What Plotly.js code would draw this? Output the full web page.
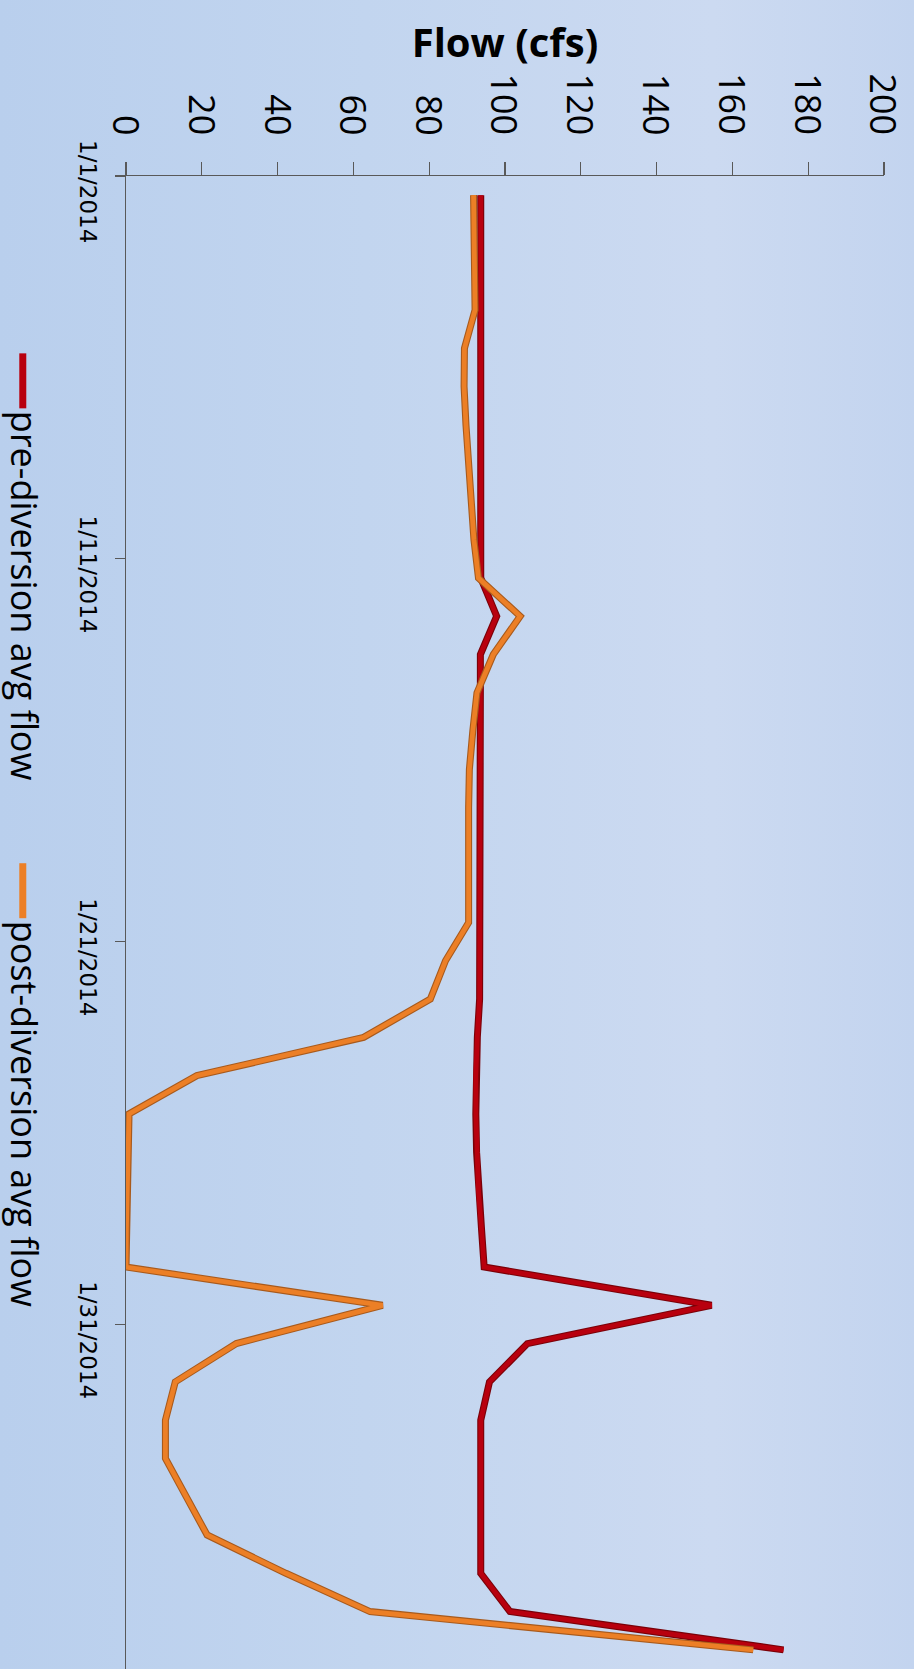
<!DOCTYPE html>
<html>
<head>
<meta charset="utf-8">
<script src="https://cdn.plot.ly/plotly-3.0.1.min.js"></script>
<style>
  html, body { margin: 0; padding: 0; }
  body {
    width: 914px; height: 1669px; overflow: hidden;
    background: linear-gradient(to right, #b9cfed 0%, #c2d5ef 40%, #ccdaf1 78%, #c3d4ef 100%);
  }
  #chart { width: 914px; height: 1669px; }
</style>
</head>
<body>
<div id="chart"></div>
<script>
// Daily dates, January 1 through February 8, 2014
const dates = [
  '2014-01-01','2014-01-02','2014-01-03','2014-01-04','2014-01-05','2014-01-06','2014-01-07',
  '2014-01-08','2014-01-09','2014-01-10','2014-01-11','2014-01-12','2014-01-13','2014-01-14',
  '2014-01-15','2014-01-16','2014-01-17','2014-01-18','2014-01-19','2014-01-20','2014-01-21',
  '2014-01-22','2014-01-23','2014-01-24','2014-01-25','2014-01-26','2014-01-27','2014-01-28',
  '2014-01-29','2014-01-30','2014-01-31','2014-02-01','2014-02-02','2014-02-03','2014-02-04',
  '2014-02-05','2014-02-06','2014-02-07','2014-02-08'
];

// Average flow before the diversion (cfs)
const preFlow = [
  93.6, 93.6, 93.6, 93.6, 93.6, 93.6, 93.6, 93.6, 93.6, 93.6,
  93.6, 97.8, 93.5, 93.5, 93.5, 93.5, 93.5, 93.5, 93.5, 93.5,
  93.4, 93.3, 92.7, 92.3, 92.3, 92.5, 93.0, 93.8, 94.5, 154.5,
  105.9, 95.9, 93.6, 93.6, 93.6, 93.6, 93.6, 101.3, 173.5
];

// Average flow after the diversion (cfs)
const postFlow = [
  91.7, 91.8, 92.0, 92.1, 89.3, 89.2, 89.7, 90.4, 91.1, 91.8,
  93.0, 104.0, 96.9, 92.6, 91.5, 90.6, 90.4, 90.3, 90.2, 90.4,
  84.3, 80.3, 62.7, 18.7, 0.8, 0.5, 0.3, 0.1, 0.0, 67.7,
  29.1, 13.0, 10.4, 10.4, 15.9, 21.4, 42.2, 64.4, 165.5
];

const seriesNames = ['pre-diversion avg flow', 'post-diversion avg flow'];
const seriesColors = ['#b8000e', '#ec7f26'];
const seriesEdge = ['#7a0008', '#a85a1c'];

// Flow axis ticks (cfs)
const flowTickVals = [0, 20, 40, 60, 80, 100, 120, 140, 160, 180, 200];
const flowTickText = ['0', '20', '40', '60', '80', '100', '120', '140', '160', '180', '200'];

// Date axis labels
const dateTickVals = ['2014-01-01', '2014-01-11', '2014-01-21', '2014-01-31'];
const dateTickText = ['1/1/2014', '1/11/2014', '1/21/2014', '1/31/2014'];

const W = 914, H = 1669;
const M = { l: 125.6, r: 29.8, t: 175.6, b: 0 };
const pw = W - M.l - M.r, ph = H - M.t - M.b;
const px2x = p => (p - M.l) / pw;
const px2y = p => (H - M.b - p) / ph;

const flows = [preFlow, postFlow];
const traces = [];
// darker edge under each line, then the line itself
flows.forEach((vals, k) => {
  traces.push({
    type: 'scatter', mode: 'lines', x: vals, y: dates,
    line: { color: seriesEdge[k], width: 7 },
    hoverinfo: 'skip', showlegend: false
  });
  traces.push({
    type: 'scatter', mode: 'lines', x: vals, y: dates, name: seriesNames[k],
    line: { color: seriesColors[k], width: 4.8 },
    showlegend: false
  });
});

const shapes = [];
const annotations = [];

// Flow tick labels, turned to read downward, ending just above the tick marks
flowTickVals.forEach((v, i) => {
  annotations.push({
    xref: 'x', yref: 'paper',
    x: v, y: px2y(137),
    xanchor: 'center', yanchor: 'bottom',
    text: flowTickText[i], textangle: 90, showarrow: false,
    font: { family: 'Open Sans', size: 36, color: '#000' }
  });
});

// Legend entries drawn as a vertical swatch followed by rotated text
const legendTop = [353, 863];
const swatchLen = 55;
seriesNames.forEach((nm, k) => {
  shapes.push({
    type: 'line', xref: 'paper', yref: 'paper',
    x0: px2x(22.3), x1: px2x(22.3),
    y0: px2y(legendTop[k]), y1: px2y(legendTop[k] + swatchLen),
    line: { color: seriesColors[k], width: 7 }
  });
  annotations.push({
    xref: 'paper', yref: 'paper',
    x: px2x(24), y: px2y(legendTop[k] + swatchLen + 1),
    xanchor: 'center', yanchor: 'top',
    text: nm, textangle: 90, showarrow: false,
    font: { family: 'Open Sans', size: 36, color: '#000' }
  });
});

const layout = {
  width: W, height: H,
  margin: M,
  paper_bgcolor: 'rgba(0,0,0,0)',
  plot_bgcolor: 'rgba(0,0,0,0)',
  showlegend: false,
  xaxis: {
    side: 'top',
    range: [0, 200],
    tickmode: 'array', tickvals: flowTickVals,
    showticklabels: false,
    ticks: 'outside', ticklen: 13, tickwidth: 1.3, tickcolor: '#595959',
    showline: true, linecolor: '#595959', linewidth: 1.5,
    showgrid: false, zeroline: false,
    title: {
      text: '<b>Flow (cfs)</b>',
      standoff: 91,
      font: { family: 'Open Sans', size: 40, color: '#000' }
    }
  },
  yaxis: {
    type: 'date',
    range: ['2014-02-08 12:00', '2013-12-31 12:00'],
    tickmode: 'array', tickvals: dateTickVals, ticktext: dateTickText,
    tickangle: 90,
    ticks: '',
    minor: {
      tick0: '2013-12-31 12:00', dtick: 10 * 86400000,
      ticks: 'outside', ticklen: 10, tickwidth: 1.3, tickcolor: '#595959',
      showgrid: false
    },
    showline: true, linecolor: '#595959', linewidth: 1.5,
    showgrid: false, zeroline: false,
    ticklabelstandoff: 17,
    tickfont: { family: 'DejaVu Sans', size: 23, color: '#000' }
  },
  shapes: shapes,
  annotations: annotations
};

Plotly.newPlot('chart', traces, layout, { displayModeBar: false, staticPlot: true });
</script>
</body>
</html>
